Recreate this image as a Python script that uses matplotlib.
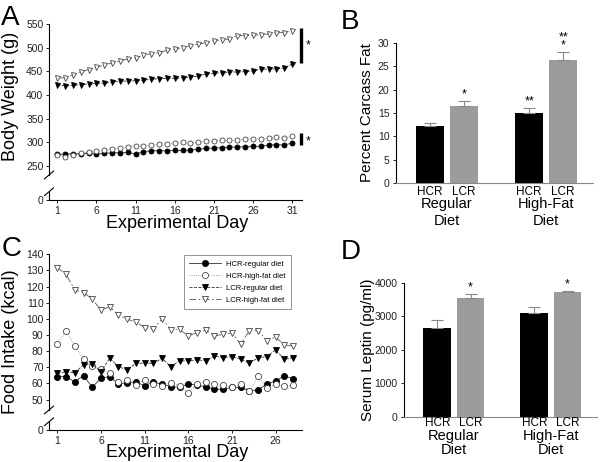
import matplotlib
matplotlib.use('Agg')
from matplotlib import pyplot as plt
import matplotlib.transforms as mtransforms
import numpy as np

plt.rcParams['font.family'] = ['Liberation Sans', 'DejaVu Sans']

# ---- panel A: body weight (g) ----
days_a = np.arange(1, 32)
bw_hcr_reg = [274, 274.8, 275.5, 275.5, 276.2, 274.8, 276.2, 277.6, 277.6, 278.3, 274.8, 279.7, 281.9, 281.9, 281.9,
              282.6, 282.6, 283.3, 284.7, 286.8, 287.5, 288.2, 289.6, 289.6, 290.3, 291, 291, 293.9, 294.6, 293.9, 298.1]
bw_hcr_hf = [272.7, 269.1, 273.4, 276.2, 279, 281.9, 284, 286.1, 287.5, 290.3, 291.8, 292.5, 293.9, 295.3, 296.7,
             297.4, 299.5, 297.4, 299.5, 301.7, 303.1, 303.8, 303.8, 304.5, 306.6, 307.3, 307.3, 308, 310.2, 308.7, 312.3]
bw_lcr_reg = [420.5, 419.8, 420.5, 422, 423.4, 424.8, 425.5, 427.6, 429, 429.7, 430.4, 431.8, 433.3, 434.7, 435.4,
              435.4, 436.8, 438.2, 439.6, 444.6, 446, 447.4, 448.8, 448.8, 449.5, 451, 455.2, 454.5, 455.9, 457.3, 465.8]
bw_lcr_hf = [436.8, 436.1, 443.2, 449.5, 453.8, 459.4, 463, 468.6, 472.2, 476.4, 479.2, 484.2, 487.7, 489.9, 494.8,
             497, 500.5, 504.8, 507.6, 511.1, 515.4, 516.8, 518.9, 525.9, 525.9, 526.6, 528.1, 529.5, 532.3, 532.3, 536.6]

# ---- panel C: food intake (kcal) ----
days_c = np.arange(1, 29)
fi_hcr_reg = [64.2, 64.2, 61, 64.9, 57.6, 63.4, 64.2, 59.7, 60.5, 61, 58.5, 61, 59.5, 58, 57.6, 59.7, 59, 58,
              56.4, 56.4, 57.6, 57.6, 55.4, 56, 59.7, 61.6, 64.7, 63]
fi_hcr_hf = [84.5, 92.7, 83.2, 75, 71, 69, 66.7, 61, 62.2, 58.9, 62.2, 59.5, 58.5, 60.5, 58.5, 54, 59.5, 61,
             59.5, 58.9, 57.9, 59.5, 55.4, 64.7, 57.2, 59.5, 58.5, 59]
fi_lcr_reg = [66.3, 67.3, 66.7, 71.5, 71.9, 67.3, 75.6, 70.4, 68.4, 72.5, 72.5, 72.5, 75.6, 70.4, 74, 74, 74.6,
              74.2, 77, 76, 76.6, 75, 72.5, 76, 76.6, 80.8, 75, 76]
fi_lcr_hf = [131.7, 127.6, 117.9, 116.3, 112.3, 105.3, 107.6, 102.4, 99.8, 98.1, 94.6, 93.6, 100.2, 93.1, 93.6,
             89.4, 91.5, 93.1, 89.4, 90.5, 91.3, 84.3, 92.7, 92.7, 86.5, 88.8, 83.9, 83.2]
series_names = ['HCR-regular diet', 'HCR-high-fat diet', 'LCR-regular diet', 'LCR-high-fat diet']

# ---- panels B and D: bars ----
strains = ['HCR', 'LCR', 'HCR', 'LCR']
diets = ['Regular', 'High-Fat']
fat_mean = [12.2, 16.5, 15.1, 26.4]
fat_err = [0.6, 1.0, 1.0, 1.7]
fat_stars = ['', '*', '**', '**\n*']
leptin_mean = [2637, 3532, 3085, 3711]
leptin_err = [250, 120, 200, 40]
leptin_stars = ['', '*', '', '*']

fig = plt.figure(figsize=(6, 4.62), dpi=100)

styles = [dict(marker='o', mfc='black', mec='black', ls='-', color='#333333'),
          dict(marker='o', mfc='white', mec='#444444', ls=':', color='#888888'),
          dict(marker='v', mfc='black', mec='black', ls='--', color='#333333'),
          dict(marker='v', mfc='white', mec='#444444', ls=(0, (8, 3, 2, 3)), color='#555555')]


def broken_axis(ax, zero_pos, low_top, high_bottom, ymax):
    for s in ['top', 'right']:
        ax.spines[s].set_visible(False)
    ax.spines['left'].set_bounds(high_bottom, ymax)
    trans = mtransforms.blended_transform_factory(ax.transAxes, ax.transData)
    ax.plot([0, 0], [zero_pos, low_top], color='black', lw=0.8, transform=trans, clip_on=False)
    lo, hi = ax.get_ylim()
    for yv in [low_top, high_bottom]:
        ya = (yv - lo) / (hi - lo)
        ax.plot([-0.018, 0.018], [ya - 0.022, ya + 0.022], color='black', lw=0.8,
                transform=ax.transAxes, clip_on=False)


def style_ticks(ax):
    ax.tick_params(labelsize=7.5, length=2.5, width=0.7, direction='out', pad=1.5, colors='#222222')
    for s in ['left', 'bottom']:
        ax.spines[s].set_linewidth(0.8)


# ---------------- A ----------------
axA = fig.add_axes([0.0817, 0.567, 0.4213, 0.3804])
for vals, st, name in zip([bw_hcr_reg, bw_hcr_hf, bw_lcr_reg, bw_lcr_hf], styles, series_names):
    axA.plot(days_a, vals, lw=0.6, ms=3.6, mew=0.6, label=name, **st)
axA.set_xlim(-0.06, 32.24)
axA.set_ylim(177.2, 550)
axA.set_yticks([177.2, 250, 300, 350, 400, 450, 500, 550])
axA.set_yticklabels(['0', '250', '300', '350', '400', '450', '500', '550'])
axA.set_xticks([1, 6, 11, 16, 21, 26, 31])
style_ticks(axA)
broken_axis(axA, 177.2, 194.8, 230.3, 550)
axA.plot([32.1, 32.1], [468, 542], color='black', lw=2.4, clip_on=False, solid_capstyle='butt')
axA.plot([32.1, 32.1], [294, 319.4], color='black', lw=2.4, clip_on=False, solid_capstyle='butt')
axA.text(33.0, 505, '*', fontsize=9, ha='center', va='center')
axA.text(33.0, 302, '*', fontsize=9, ha='center', va='center')
axA.text(-0.154, 0.59, 'Body Weight (g)', rotation=90, fontsize=13, ha='center', va='center',
         transform=axA.transAxes)
axA.text(0.506, -0.135, 'Experimental Day', fontsize=13, ha='center', va='center', transform=axA.transAxes)

# ---------------- C ----------------
axC = fig.add_axes([0.0817, 0.0693, 0.4213, 0.3803])
for vals, st, name in zip([fi_hcr_reg, fi_hcr_hf, fi_lcr_reg, fi_lcr_hf], styles, series_names):
    axC.plot(days_c, vals, lw=0.6, ms=4.4, mew=0.6, label=name, **st)
axC.set_xlim(0.05, 29)
axC.set_ylim(31.2, 140)
axC.set_yticks([31.2] + list(range(50, 141, 10)))
axC.set_yticklabels(['0'] + [str(v) for v in range(50, 141, 10)])
axC.set_xticks([1, 6, 11, 16, 21, 26])
style_ticks(axC)
broken_axis(axC, 31.2, 36.3, 43.6, 140)
leg = axC.legend(loc='upper left', bbox_to_anchor=(0.534, 0.995), fontsize=5.5, frameon=True,
                 fancybox=False, edgecolor='#777777', handlelength=4.2, borderpad=0.7,
                 labelspacing=0.62, handletextpad=0.6, borderaxespad=0)
leg.get_frame().set_linewidth(0.7)
axC.text(-0.154, 0.5, 'Food Intake (kcal)', rotation=90, fontsize=13, ha='center', va='center',
         transform=axC.transAxes)
axC.text(0.506, -0.13, 'Experimental Day', fontsize=13, ha='center', va='center', transform=axC.transAxes)

# ---------------- bars ----------------
pos = [0, 1.2, 3.5, 4.7]
bar_colors = ['black', '#9c9c9c', 'black', '#9c9c9c']


def bar_panel(ax, means, errs, stars, ylim, yticks, ylabel, ylab_x, y_strain, y_diet, y_diet2, star_gap):
    ax.bar(pos, means, width=1.0, color=bar_colors)
    ax.errorbar(pos, means, yerr=[np.zeros(4), errs], fmt='none', ecolor='#888888', elinewidth=0.8,
                capsize=4, capthick=0.8)
    for p, m, e, s in zip(pos, means, errs, stars):
        if s:
            ax.text(p, m + e + star_gap, s, ha='center', va='bottom', fontsize=9, linespacing=0.55)
    for s in ['top', 'right']:
        ax.spines[s].set_visible(False)
    ax.spines['bottom'].set_color('#888888')
    ax.set_ylim(*ylim)
    ax.set_yticks(yticks)
    ax.set_xlim(-1.2, 5.75)
    ax.set_xticks([])
    ax.tick_params(axis='y', labelsize=7.5, length=2.5, width=0.7, pad=2, colors='#222222')
    trans = mtransforms.blended_transform_factory(ax.transData, ax.transAxes)
    for p, s in zip(pos, strains):
        ax.text(p, y_strain, s, ha='center', va='center', fontsize=8.5, transform=trans)
    for i, d in enumerate(diets):
        cx = (pos[2 * i] + pos[2 * i + 1]) / 2
        ax.text(cx, y_diet, d, ha='center', va='center', fontsize=10.5, transform=trans)
        ax.text(cx, y_diet2, 'Diet', ha='center', va='center', fontsize=10.5, transform=trans)
    ax.text(ylab_x, 0.5, ylabel, rotation=90, fontsize=11, ha='center', va='center', transform=ax.transAxes)


axB = fig.add_axes([0.6595, 0.6032, 0.3288, 0.3044])
bar_panel(axB, fat_mean, fat_err, fat_stars, (0, 30), range(0, 31, 5), 'Percent Carcass Fat',
          -0.148, -0.065, -0.15, -0.27, 0.1)

axD = fig.add_axes([0.6733, 0.098, 0.3212, 0.29])
bar_panel(axD, leptin_mean, leptin_err, leptin_stars, (0, 4000), range(0, 4001, 1000), 'Serum Leptin (pg/ml)',
          -0.189, -0.048, -0.145, -0.25, 15)

# panel letters
for lab, x, y in [('A', 0.002, 0.99), ('B', 0.568, 0.98), ('C', 0.002, 0.49), ('D', 0.568, 0.483)]:
    fig.text(x, y, lab, fontsize=20, ha='left', va='top')

fig.savefig('out.png', dpi=100)
